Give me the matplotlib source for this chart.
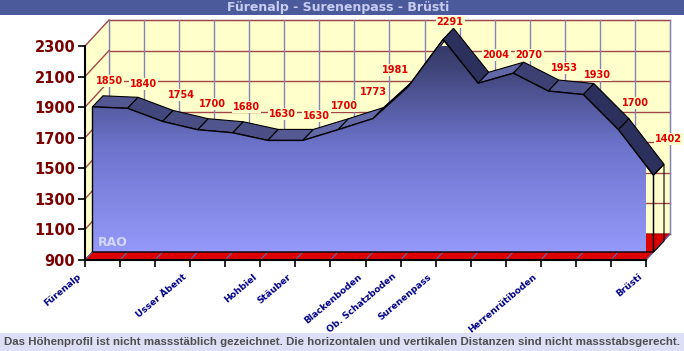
import numpy as np
import matplotlib
matplotlib.use("Agg")
import matplotlib.pyplot as plt
from matplotlib.patches import Polygon, Rectangle
from matplotlib.colors import LinearSegmentedColormap, to_rgb
from matplotlib import transforms

# elevation profile (m)
heights = [1850, 1840, 1754, 1700, 1680, 1630, 1630, 1700, 1773, 1981,
           2291, 2004, 2070, 1953, 1930, 1700, 1402]
stops = ['Fürenalp', '', '', 'Usser Äbent', '', 'Hohbiel', 'Stäuber', '',
         'Blackenboden', 'Ob. Schatzboden', 'Surenenpass', '', '',
         'Herrenrütiboden', '', '', 'Brüsti']
yticks = [900, 1100, 1300, 1500, 1700, 1900, 2100, 2300]
title = "Fürenalp - Surenenpass - Brüsti"
note = ("Das Höhenprofil ist nicht massstäblich gezeichnet. Die horizontalen "
        "und vertikalen Distanzen sind nicht massstabsgerecht.")

# label placement tweaks, pixels (right, up) from the front top corner
label_nudge = [(17, 26), (16, 24), (19, 26), (15, 26), (14, 26), (15, 26),
               (14, 24), (7, 24), (0, 27), (-13, 17), (7, 17), (18, 28),
               (16, 18), (16, 23), (14, 20), (17, 27), (15, 36)]

W, H = 684, 351
n = len(heights)
ymin, ymax = yticks[0], yticks[-1]

fig = plt.figure(figsize=(W / 100, H / 100), dpi=100)
fig.patch.set_facecolor('white')
ax = fig.add_axes([85 / W, 91 / H, 561 / W, 214 / H])
ax.set_xlim(0, n - 1)
ax.set_ylim(ymin, ymax)
ax.patch.set_visible(False)

# pixel -> data conversions for the fake 3d depth
px_x = 561 / (n - 1)
px_y = 214 / (ymax - ymin)
def off(dx, dy):
    return dx / px_x, dy / px_y

Dx, Dy = off(24, 26)      # wall depth
A1x, A1y = off(7.5, 8)    # area front face
A2x, A2y = off(18, 19)    # area back face

# back wall
ax.add_patch(Rectangle((Dx, ymin + Dy), n - 1, ymax - ymin, facecolor='#FFFFCC',
                       edgecolor='#C8C8C8', lw=1, clip_on=False, zorder=0.1))
for lev in yticks:
    ax.plot([Dx, n - 1 + Dx], [lev + Dy, lev + Dy], color='#A04848', lw=1,
            clip_on=False, zorder=0.2)
for i in range(n):
    ax.plot([i + Dx, i + Dx], [ymin + Dy, ymax + Dy], color='#8484B8', lw=1,
            clip_on=False, zorder=0.2)

# left wall
ax.add_patch(Polygon([(0, ymin), (Dx, ymin + Dy), (Dx, ymax + Dy), (0, ymax)],
                     closed=True, facecolor='#FFFFCC', edgecolor='none',
                     clip_on=False, zorder=0.15))
for lev in yticks:
    ax.plot([0, Dx], [lev, lev + Dy], color='#A04848', lw=1,
            clip_on=False, zorder=0.25)

# floor
ax.add_patch(Polygon([(0, ymin), (n - 1, ymin), (n - 1 + Dx, ymin + Dy), (Dx, ymin + Dy)],
                     closed=True, facecolor='#DD0000', edgecolor='#990000', lw=0.8,
                     clip_on=False, zorder=0.3))
for i in range(n):
    ax.plot([i, i + Dx], [ymin, ymin + Dy], color='#5A6AC0', lw=0.8,
            clip_on=False, zorder=0.35)

# ribbon on top of the profile
dark = np.array(to_rgb('#2C305C'))
light = np.array(to_rgb('#7C82CC'))
for i in range(n - 1):
    v1, v2 = heights[i], heights[i + 1]
    s = (v2 - v1) * px_y / px_x
    t = np.clip(0.5 + 0.6 * s, 0, 1)
    col = dark + (light - dark) * t
    quad = [(i + A1x, v1 + A1y), (i + 1 + A1x, v2 + A1y),
            (i + 1 + A2x, v2 + A2y), (i + A2x, v1 + A2y)]
    ax.add_patch(Polygon(quad, closed=True, facecolor=col, edgecolor='black',
                         lw=0.8, clip_on=False, zorder=1))

# right end face
end = [(n - 1 + A1x, ymin + A1y), (n - 1 + A1x, heights[-1] + A1y),
       (n - 1 + A2x, heights[-1] + A2y), (n - 1 + A2x, ymin + A2y)]
end_poly = Polygon(end, closed=True, facecolor='none', edgecolor='black', lw=0.8,
                   clip_on=False, zorder=1.3)
ax.add_patch(end_poly)
end_cmap = LinearSegmentedColormap.from_list('end', ['#1A1C36', '#4C5290'])
grad = np.linspace(1, 0, 100).reshape(-1, 1)
im_end = ax.imshow(grad, cmap=end_cmap, aspect='auto', zorder=1.2,
                   extent=[n - 1 + A1x, n - 1 + A2x, ymin + A1y, heights[-1] + A2y])
im_end.set_clip_path(end_poly)

# front face with vertical gradient
xs = np.arange(n) + A1x
front = [(xs[0], ymin + A1y)] + [(x, v + A1y) for x, v in zip(xs, heights)] + [(xs[-1], ymin + A1y)]
front_poly = Polygon(front, closed=True, facecolor='none', edgecolor='black', lw=1,
                     clip_on=False, zorder=2.1)
ax.add_patch(front_poly)
area_cmap = LinearSegmentedColormap.from_list(
    'area', [(0, '#9499FA'), (0.45, '#6E74CC'), (0.8, '#3E4376'), (1, '#2A2D55')])
grad = np.linspace(1, 0, 256).reshape(-1, 1)
im = ax.imshow(grad, cmap=area_cmap, aspect='auto', zorder=2,
               extent=[xs[0], xs[-1], ymin + A1y, ymax + Dy])
im.set_clip_path(front_poly)

ax.annotate('RAO', (xs[0], ymin + A1y), xytext=(20, 10), textcoords='offset pixels',
            ha='center', va='center', color='#D4D8FF', fontsize=9,
            fontweight='bold', zorder=3, annotation_clip=False)

# value labels
for i, v in enumerate(heights):
    dx, dy = label_nudge[i]
    ax.annotate(str(v), (xs[i], v + A1y), xytext=(dx, dy), textcoords='offset pixels',
                ha='center', va='center', color='#E00000', fontsize=7,
                fontweight='bold', zorder=0.5, annotation_clip=False,
                bbox=dict(boxstyle='square,pad=0.1', fc='#FFFFCC', ec='none'))

ax.set_xlim(0, n - 1)
ax.set_ylim(ymin, ymax)

# axes
for side in ['top', 'right']:
    ax.spines[side].set_visible(False)
for side in ['left', 'bottom']:
    ax.spines[side].set_linewidth(1.5)
    ax.spines[side].set_zorder(4)
ax.set_yticks(yticks)
ax.set_yticklabels([str(t) for t in yticks], color='#7A0000', fontsize=10.5,
                   fontweight='bold')
ax.set_xticks(range(n))
ax.set_xticklabels(stops, rotation=40, ha='right', rotation_mode='anchor',
                   color='#000088', fontsize=6.6, fontweight='bold')
ax.tick_params(axis='both', direction='out', length=5, width=1.2, color='black')
ax.tick_params(axis='y', pad=2)
ax.tick_params(axis='x', pad=3.6)
shift = transforms.ScaledTranslation(-8 / 100, 0, fig.dpi_scale_trans)
for lab in ax.get_xticklabels():
    lab.set_transform(lab.get_transform() + shift)

# title and footer bars
fig.patches.append(Rectangle((0, 1 - 15 / H), 1, 15 / H, transform=fig.transFigure,
                             facecolor='#4B5A9B', edgecolor='none', zorder=0))
fig.text(0.495, 1 - 7.5 / H, title, ha='center', va='center', color='#C8CCF0',
         fontsize=9, fontweight='bold')
fig.patches.append(Rectangle((0, 0), 1, 18 / H, transform=fig.transFigure,
                             facecolor='#DCDFF6', edgecolor='none', zorder=0))
foot = fig.text(0.5, 9 / H, note, ha='center', va='center', color='#4E4E4E',
                fontsize=8, fontweight='bold', family=['Liberation Sans', 'DejaVu Sans'])
# shrink the footer so it spans the width like the original
renderer = fig.canvas.get_renderer()
wpx = foot.get_window_extent(renderer).width
foot.set_fontsize(8 * 676 / wpx)

fig.savefig('out.png', dpi=100)
